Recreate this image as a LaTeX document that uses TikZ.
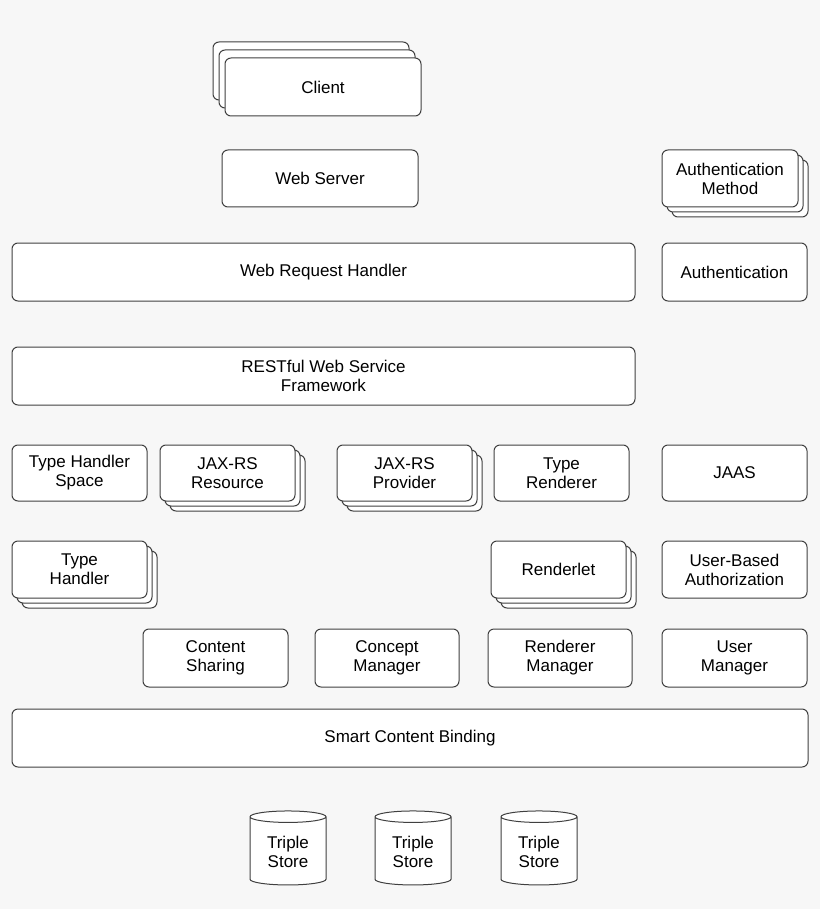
\documentclass[tikz,border=0pt]{standalone}
\usepackage{fontspec}
\setmainfont{Liberation Sans}
\usetikzlibrary{shapes.geometric, shadows}
\definecolor{bgcol}{HTML}{F7F7F7}
\tikzset{
    box/.style={rectangle, rounded corners=3pt, draw=black!75, fill=white, line width=0.5pt, align=center, font=\fontsize{8.5}{9.5}\selectfont, inner sep=1pt},
    stackdr/.style={double copy shadow={shadow xshift=2.5pt, shadow yshift=-2.5pt, draw=black!75, fill=white}},
    stackul/.style={double copy shadow={shadow xshift=-3pt, shadow yshift=4pt, draw=black!75, fill=white}},
    store/.style={cylinder, shape border rotate=90, aspect=0.25, draw=black!75, fill=white, line width=0.5pt, align=center, font=\fontsize{8.5}{9.5}\selectfont, minimum width=38pt, minimum height=37pt, inner sep=1pt},
}
\begin{document}
\begin{tikzpicture}[x=0.5pt, y=-0.5pt]
    \fill[bgcol] (0,0) rectangle (820,909);
    \useasboundingbox (0,0) rectangle (820,909);

    % top
    \node [box, stackul, minimum width=98pt, minimum height=29pt] (client) at (323,87) {Client};
    \node [box, minimum width=98pt, minimum height=28.5pt] (websrv) at (320,178.5) {Web Server};
    \node [box, stackdr, minimum width=68pt, minimum height=28.5pt] (authm) at (730,178.5) {Authentication\\Method};
    \node [box, minimum width=311.5pt, minimum height=29pt] (wrh) at (323.5,272) {Web Request Handler};
    \node [box, minimum width=72.5pt, minimum height=29pt] (auth) at (734.5,272) {Authentication};
    \node [box, minimum width=311.5pt, minimum height=29pt] (rest) at (323.5,376) {RESTful Web Service\\Framework};

    % middle
    \node [box, minimum width=67.5pt, minimum height=28pt] (ths) at (79.5,473) {Type Handler\\Space};
    \node [box, stackdr, minimum width=67.5pt, minimum height=28pt] (jaxres) at (227.5,473) {JAX-RS\\Resource};
    \node [box, stackdr, minimum width=67.5pt, minimum height=28pt] (jaxprov) at (404.5,473) {JAX-RS\\Provider};
    \node [box, minimum width=67.5pt, minimum height=28pt] (trend) at (561.5,473) {Type\\Renderer};
    \node [box, minimum width=72.5pt, minimum height=28pt] (jaas) at (734.5,473) {JAAS};
    \node [box, stackdr, minimum width=67.5pt, minimum height=28.5pt] (thand) at (79.5,569.5) {Type\\Handler};
    \node [box, stackdr, minimum width=67.5pt, minimum height=28.5pt] (rlet) at (558.5,569.5) {Renderlet};
    \node [box, minimum width=72.5pt, minimum height=28.5pt] (uba) at (734.5,569.5) {User-Based\\Authorization};

    % managers
    \node [box, minimum width=72.5pt, minimum height=29pt] (share) at (215.5,658) {Content\\Sharing};
    \node [box, minimum width=72pt, minimum height=29pt] (concept) at (387,658) {Concept\\Manager};
    \node [box, minimum width=72pt, minimum height=29pt] (rmgr) at (560,658) {Renderer\\Manager};
    \node [box, minimum width=72.5pt, minimum height=29pt] (umgr) at (734.5,658) {User\\Manager};
    \node [box, minimum width=398pt, minimum height=29pt] (scb) at (410,738) {Smart Content Binding};

    % stores
    \node [store] (ts1) at (288,852) {Triple\\Store};
    \node [store] (ts2) at (413,852) {Triple\\Store};
    \node [store] (ts3) at (539,852) {Triple\\Store};
\end{tikzpicture}
\end{document}
